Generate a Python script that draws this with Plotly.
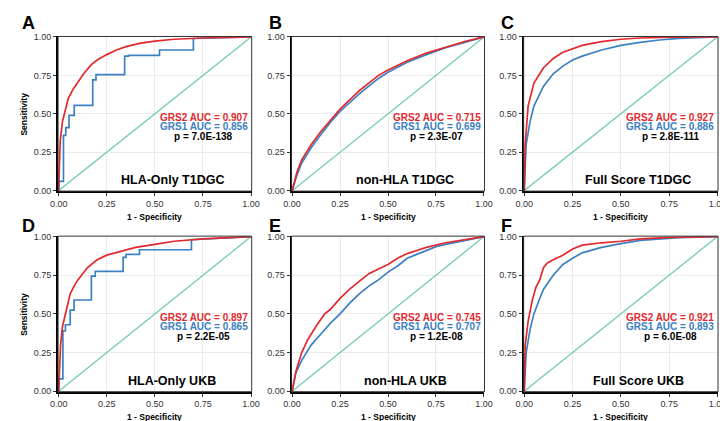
# ROC CURVES - GRS1 vs GRS2 (T1DGC and UKB)
# ----------------------------------------------------------------------------------------------------
import plotly.graph_objects as go
from plotly.subplots import make_subplots

# DATA
# ----------------------------------------------------------------------------------------------------
panel_letters = ['A', 'B', 'C', 'D', 'E', 'F']
panel_titles = ['HLA-Only T1DGC', 'non-HLA T1DGC', 'Full Score T1DGC',
                'HLA-Only UKB', 'non-HLA UKB', 'Full Score UKB']
grs2_auc = ['0.907', '0.715', '0.927', '0.897', '0.745', '0.921']
grs1_auc = ['0.856', '0.699', '0.886', '0.865', '0.707', '0.893']
p_values = ['7.0E-138', '2.3E-07', '2.8E-111', '2.2E-05', '1.2E-08', '6.0E-08']

diag_x = [0, 1]
diag_y = [0, 1]

# A - HLA-Only T1DGC
a_grs2_fpr = [0, 0.003, 0.008, 0.02, 0.034, 0.05, 0.075, 0.1, 0.13, 0.17, 0.2, 0.25, 0.3, 0.35, 0.42, 0.5, 0.6, 0.75, 0.9, 1]
a_grs2_tpr = [0, 0.18, 0.32, 0.45, 0.53, 0.6, 0.66, 0.705, 0.76, 0.82, 0.85, 0.885, 0.915, 0.937, 0.958, 0.973, 0.985, 0.993, 0.998, 1]
a_grs1_fpr = [0, 0, 0.025, 0.025, 0.037, 0.037, 0.054, 0.054, 0.081, 0.081, 0.177, 0.177, 0.194, 0.194, 0.343, 0.343, 0.363, 0.363, 0.524, 0.524, 0.70, 0.70, 1]
a_grs1_tpr = [0, 0.06, 0.06, 0.36, 0.36, 0.41, 0.41, 0.49, 0.49, 0.555, 0.555, 0.72, 0.72, 0.755, 0.755, 0.875, 0.875, 0.88, 0.88, 0.915, 0.915, 0.99, 1]

# B - non-HLA T1DGC
b_grs2_fpr = [0, 0.025, 0.05, 0.1, 0.15, 0.2, 0.25, 0.3, 0.35, 0.4, 0.45, 0.5, 0.6, 0.7, 0.8, 0.9, 1]
b_grs2_tpr = [0, 0.12, 0.2, 0.3, 0.385, 0.46, 0.53, 0.59, 0.65, 0.70, 0.75, 0.785, 0.845, 0.895, 0.935, 0.97, 1]
b_grs1_fpr = [0, 0.025, 0.05, 0.1, 0.15, 0.2, 0.25, 0.3, 0.35, 0.4, 0.45, 0.5, 0.6, 0.7, 0.8, 0.9, 1]
b_grs1_tpr = [0, 0.1, 0.18, 0.28, 0.365, 0.445, 0.515, 0.575, 0.63, 0.68, 0.73, 0.77, 0.835, 0.885, 0.93, 0.965, 1]

# C - Full Score T1DGC
c_grs2_fpr = [0, 0.005, 0.02, 0.05, 0.1, 0.15, 0.2, 0.25, 0.3, 0.4, 0.5, 0.6, 0.75, 1]
c_grs2_tpr = [0, 0.3, 0.55, 0.7, 0.8, 0.86, 0.9, 0.925, 0.945, 0.97, 0.985, 0.993, 0.998, 1]
c_grs1_fpr = [0, 0.01, 0.03, 0.05, 0.1, 0.15, 0.2, 0.25, 0.3, 0.4, 0.5, 0.6, 0.7, 0.8, 1]
c_grs1_tpr = [0, 0.3, 0.45, 0.55, 0.68, 0.76, 0.81, 0.85, 0.875, 0.915, 0.945, 0.965, 0.98, 0.99, 1]

# D - HLA-Only UKB
d_grs2_fpr = [0, 0.01, 0.02, 0.04, 0.06, 0.08, 0.1, 0.15, 0.2, 0.25, 0.3, 0.4, 0.5, 0.6, 0.75, 0.9, 1]
d_grs2_tpr = [0, 0.3, 0.42, 0.52, 0.63, 0.68, 0.72, 0.8, 0.85, 0.88, 0.895, 0.93, 0.95, 0.97, 0.985, 0.995, 1]
d_grs1_fpr = [0, 0, 0.022, 0.022, 0.035, 0.035, 0.06, 0.06, 0.08, 0.08, 0.17, 0.17, 0.19, 0.19, 0.335, 0.335, 0.35, 0.35, 0.42, 0.42, 0.69, 0.69, 1]
d_grs1_tpr = [0, 0.08, 0.08, 0.39, 0.39, 0.43, 0.43, 0.525, 0.525, 0.59, 0.59, 0.745, 0.745, 0.775, 0.775, 0.865, 0.865, 0.885, 0.885, 0.915, 0.915, 0.98, 1]

# E - non-HLA UKB
e_grs2_fpr = [0, 0.02, 0.05, 0.08, 0.1, 0.13, 0.17, 0.2, 0.25, 0.3, 0.35, 0.4, 0.45, 0.5, 0.55, 0.6, 0.65, 0.7, 0.8, 0.9, 1]
e_grs2_tpr = [0, 0.13, 0.25, 0.33, 0.37, 0.43, 0.5, 0.53, 0.6, 0.66, 0.71, 0.76, 0.79, 0.82, 0.86, 0.89, 0.91, 0.93, 0.96, 0.98, 1]
e_grs1_fpr = [0, 0.02, 0.05, 0.1, 0.15, 0.2, 0.25, 0.3, 0.35, 0.4, 0.45, 0.5, 0.55, 0.6, 0.65, 0.7, 0.75, 0.8, 0.9, 1]
e_grs1_tpr = [0, 0.12, 0.2, 0.3, 0.37, 0.44, 0.5, 0.57, 0.63, 0.68, 0.72, 0.77, 0.81, 0.86, 0.885, 0.91, 0.935, 0.95, 0.975, 1]

# F - Full Score UKB
f_grs2_fpr = [0, 0.005, 0.02, 0.04, 0.06, 0.08, 0.1, 0.12, 0.15, 0.2, 0.25, 0.3, 0.4, 0.5, 0.6, 0.75, 1]
f_grs2_tpr = [0, 0.3, 0.45, 0.58, 0.67, 0.72, 0.8, 0.83, 0.85, 0.88, 0.92, 0.945, 0.96, 0.97, 0.985, 0.995, 1]
f_grs1_fpr = [0, 0.01, 0.03, 0.05, 0.08, 0.1, 0.15, 0.2, 0.25, 0.3, 0.4, 0.5, 0.6, 0.7, 0.8, 1]
f_grs1_tpr = [0, 0.25, 0.4, 0.5, 0.6, 0.66, 0.75, 0.82, 0.86, 0.895, 0.93, 0.955, 0.975, 0.985, 0.993, 1]

grs2_curves = [(a_grs2_fpr, a_grs2_tpr), (b_grs2_fpr, b_grs2_tpr), (c_grs2_fpr, c_grs2_tpr),
               (d_grs2_fpr, d_grs2_tpr), (e_grs2_fpr, e_grs2_tpr), (f_grs2_fpr, f_grs2_tpr)]
grs1_curves = [(a_grs1_fpr, a_grs1_tpr), (b_grs1_fpr, b_grs1_tpr), (c_grs1_fpr, c_grs1_tpr),
               (d_grs1_fpr, d_grs1_tpr), (e_grs1_fpr, e_grs1_tpr), (f_grs1_fpr, f_grs1_tpr)]

# STYLE
# ----------------------------------------------------------------------------------------------------
RED = '#E2292E'
BLUE = '#3B80C2'
TEAL = '#74CBB0'
FONT = 'Liberation Sans, Arial, sans-serif'

x_domains = [[0.0591, 0.331], [0.387, 0.658], [0.713, 0.986]]
y_domains = [[0.5653, 0.9406], [0.0784, 0.456]]

# FIGURE
# ----------------------------------------------------------------------------------------------------
fig = make_subplots(rows=2, cols=3)

for i in range(6):
    row = i // 3 + 1
    col = i % 3 + 1
    fig.add_trace(go.Scatter(x=diag_x, y=diag_y, mode='lines',
                             line=dict(color=TEAL, width=1.3), showlegend=False, hoverinfo='skip'),
                  row=row, col=col)
    fig.add_trace(go.Scatter(x=grs1_curves[i][0], y=grs1_curves[i][1], mode='lines',
                             line=dict(color=BLUE, width=1.7), showlegend=False),
                  row=row, col=col)
    fig.add_trace(go.Scatter(x=grs2_curves[i][0], y=grs2_curves[i][1], mode='lines',
                             line=dict(color=RED, width=1.7), showlegend=False),
                  row=row, col=col)

    fig.update_xaxes(domain=x_domains[col - 1], row=row, col=col)
    fig.update_yaxes(domain=y_domains[row - 1], row=row, col=col)

    ax = '' if i == 0 else str(i + 1)
    xr = 'x' + ax
    yr = 'y' + ax

    # thin frame on top / right
    fig.add_shape(type='rect', xref=xr + ' domain', yref=yr + ' domain', x0=0, x1=1, y0=0, y1=1,
                  line=dict(color='#333333', width=1))

    # AUC and p-value text
    for txt, yy, colr in [('GRS2 AUC = ' + grs2_auc[i], 0.477, RED),
                          ('GRS1 AUC = ' + grs1_auc[i], 0.419, BLUE),
                          ('p = ' + p_values[i], 0.355, 'black')]:
        fig.add_annotation(x=0.755, y=yy, xref=xr, yref=yr, text='<b>' + txt + '</b>', showarrow=False,
                           font=dict(family=FONT, size=10, color=colr), xanchor='center', yanchor='middle')
    fig.add_annotation(x=0.59, y=0.066, xref=xr, yref=yr, text='<b>' + panel_titles[i] + '</b>',
                       showarrow=False, font=dict(family=FONT, size=12.5, color='black'),
                       xanchor='center', yanchor='middle')

    # panel letter
    fig.add_annotation(x=[0.006, 0.352, 0.678][col - 1], y=[0.973, 0.48][row - 1], xref='paper', yref='paper',
                       text='<b>' + panel_letters[i] + '</b>', showarrow=False,
                       font=dict(family=FONT, size=18, color='black'), xanchor='left', yanchor='middle')

    # x axis title
    fig.add_annotation(x=sum(x_domains[col - 1]) / 2, y=[0.5036, 0.0166][row - 1], xref='paper', yref='paper',
                       text='<b>1 - Specificity</b>', showarrow=False,
                       font=dict(family=FONT, size=8.5, color='black'), xanchor='center', yanchor='middle')

# y axis titles (left column only)
for row in [1, 2]:
    fig.add_annotation(x=0.011, y=sum(y_domains[row - 1]) / 2, xref='paper', yref='paper',
                       text='<b>Sensitivity</b>', showarrow=False, textangle=-90,
                       font=dict(family=FONT, size=8.5, color='black'), xanchor='center', yanchor='middle')

axis_style = dict(
    range=[-0.003, 1.003],
    tickvals=[0, 0.25, 0.5, 0.75, 1],
    ticktext=['0.00', '0.25', '0.50', '0.75', '1.00'],
    showgrid=True, gridcolor='#EBEBEB', gridwidth=1,
    zeroline=False,
    showline=True, linecolor='black', linewidth=2,
    ticks='outside', ticklen=3, tickcolor='#333333', tickwidth=1,
    tickfont=dict(family=FONT, size=9, color='#333333'),
)
fig.update_xaxes(**axis_style)
fig.update_yaxes(**axis_style)

fig.update_layout(
    width=728, height=421,
    margin=dict(l=0, r=0, t=0, b=0),
    plot_bgcolor='white', paper_bgcolor='white',
    font=dict(family=FONT),
)

fig.write_html('out.html')
